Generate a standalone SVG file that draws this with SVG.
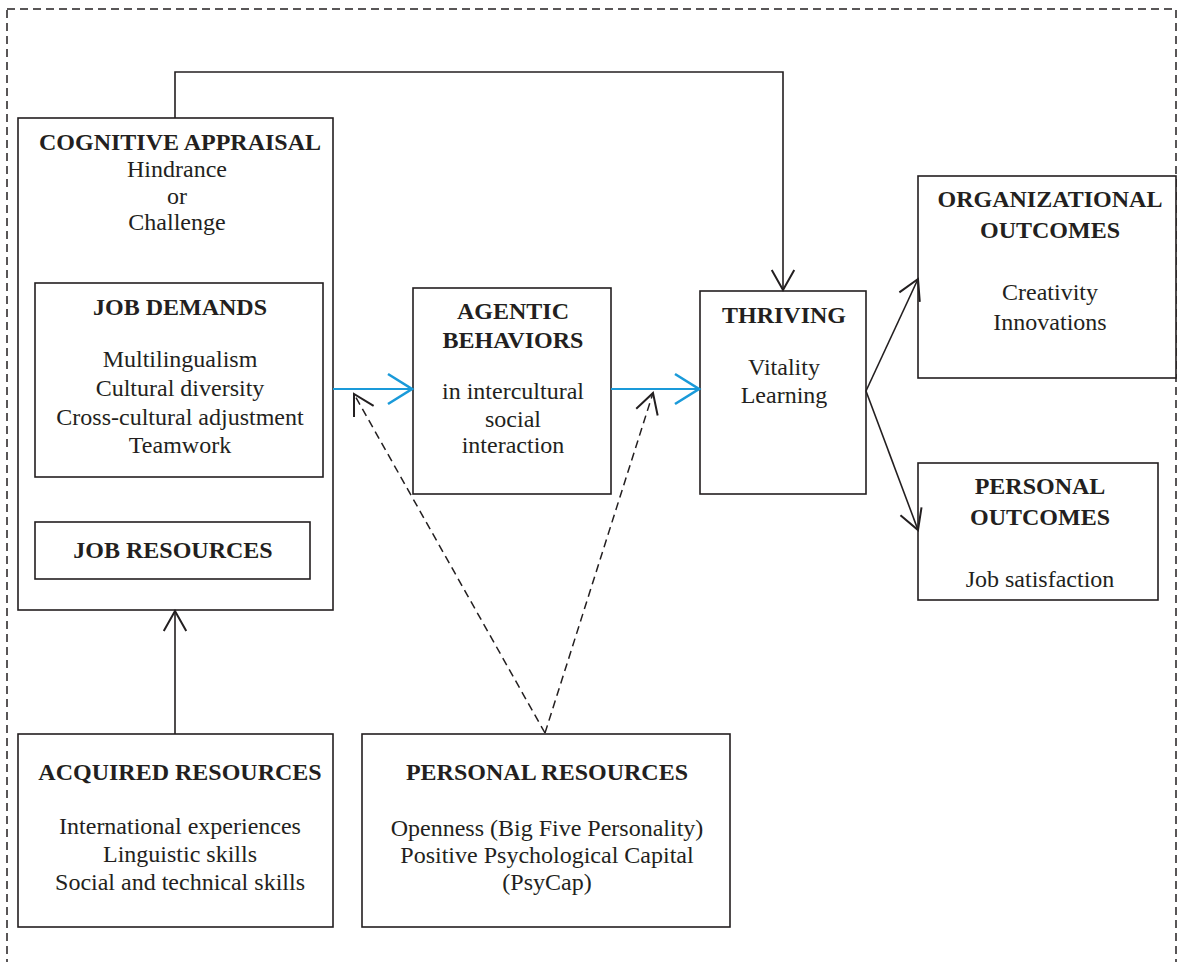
<svg xmlns="http://www.w3.org/2000/svg" width="1178" height="962" viewBox="0 0 1178 962">
<style>
.box{fill:#fff;stroke:#231f20;stroke-width:1.6}
.t{font-family:"Liberation Serif","Times New Roman",serif;font-size:24px;fill:#231f20;text-anchor:middle}
.b{font-weight:bold}
.ln{fill:none;stroke:#231f20;stroke-width:1.6}
.blue{fill:none;stroke:#1a9ad9;stroke-width:2.2}
.dash{fill:none;stroke:#231f20;stroke-width:1.5;stroke-dasharray:8 5}
</style>
<defs>
<marker id="ah" markerUnits="userSpaceOnUse" markerWidth="30" markerHeight="30" viewBox="-20 -12 24 24" refX="0" refY="0" orient="auto">
<path d="M-16,-9 L0,0 L-16,9" fill="none" stroke="#231f20" stroke-width="1.6"/>
</marker>
<marker id="ahb" markerUnits="userSpaceOnUse" markerWidth="36" markerHeight="36" viewBox="-24 -15 28 30" refX="0" refY="0" orient="auto">
<path d="M-20,-12.5 L0,0 L-20,12.5" fill="none" stroke="#1a9ad9" stroke-width="2.2"/>
</marker>
</defs>
<rect x="7" y="9" width="1169" height="1000" fill="none" stroke="#231f20" stroke-width="1.5" stroke-dasharray="8 5"/>

<g id="cognitive-appraisal">
<rect class="box" x="18" y="118" width="315" height="492"/>
<text class="t b" x="180" y="150">COGNITIVE APPRAISAL</text>
<text class="t" x="177" y="177">Hindrance</text>
<text class="t" x="177" y="204">or</text>
<text class="t" x="177" y="230">Challenge</text>
</g>
<g id="job-demands">
<rect class="box" x="35" y="283" width="288" height="194"/>
<text class="t b" x="180" y="315">JOB DEMANDS</text>
<text class="t" x="180" y="367">Multilingualism</text>
<text class="t" x="180" y="396">Cultural diversity</text>
<text class="t" x="180" y="425">Cross-cultural adjustment</text>
<text class="t" x="180" y="453">Teamwork</text>
</g>
<g id="job-resources">
<rect class="box" x="35" y="522" width="275" height="57"/>
<text class="t b" x="173" y="558">JOB RESOURCES</text>
</g>
<g id="agentic-behaviors">
<rect class="box" x="413" y="288" width="198" height="206"/>
<text class="t b" x="513" y="319">AGENTIC</text>
<text class="t b" x="513" y="348">BEHAVIORS</text>
<text class="t" x="513" y="399">in intercultural</text>
<text class="t" x="513" y="427">social</text>
<text class="t" x="513" y="453">interaction</text>
</g>
<g id="thriving">
<rect class="box" x="700" y="291" width="166" height="203"/>
<text class="t b" x="784" y="323">THRIVING</text>
<text class="t" x="784" y="375">Vitality</text>
<text class="t" x="784" y="403">Learning</text>
</g>
<g id="organizational-outcomes">
<rect class="box" x="918" y="176" width="258" height="202"/>
<text class="t b" x="1050" y="207">ORGANIZATIONAL</text>
<text class="t b" x="1050" y="238">OUTCOMES</text>
<text class="t" x="1050" y="300">Creativity</text>
<text class="t" x="1050" y="330">Innovations</text>
</g>
<g id="personal-outcomes">
<rect class="box" x="918" y="463" width="240" height="137"/>
<text class="t b" x="1040" y="494">PERSONAL</text>
<text class="t b" x="1040" y="525">OUTCOMES</text>
<text class="t" x="1040" y="587">Job satisfaction</text>
</g>
<g id="acquired-resources">
<rect class="box" x="18" y="734" width="315" height="193"/>
<text class="t b" x="180" y="780">ACQUIRED RESOURCES</text>
<text class="t" x="180" y="834">International experiences</text>
<text class="t" x="180" y="862">Linguistic skills</text>
<text class="t" x="180" y="890">Social and technical skills</text>
</g>
<g id="personal-resources">
<rect class="box" x="362" y="734" width="368" height="193"/>
<text class="t b" x="547" y="780">PERSONAL RESOURCES</text>
<text class="t" x="547" y="836">Openness (Big Five Personality)</text>
<text class="t" x="547" y="863">Positive Psychological Capital</text>
<text class="t" x="547" y="890">(PsyCap)</text>
</g>

<g id="connectors">
<polyline class="ln" points="175,118 175,72 783,72 783,290" marker-end="url(#ah)"/>
<line class="ln" x1="175" y1="734" x2="175" y2="611" marker-end="url(#ah)"/>
<line class="blue" x1="333" y1="389" x2="412" y2="389" marker-end="url(#ahb)"/>
<line class="blue" x1="611" y1="389" x2="699" y2="389" marker-end="url(#ahb)"/>
<line class="ln" x1="866" y1="391" x2="918" y2="279" marker-end="url(#ah)"/>
<line class="ln" x1="866" y1="391" x2="918" y2="530" marker-end="url(#ah)"/>
<line class="dash" x1="545" y1="733" x2="354" y2="394" marker-end="url(#ah)"/>
<line class="dash" x1="545" y1="733" x2="653" y2="393" marker-end="url(#ah)"/>
</g>
</svg>
